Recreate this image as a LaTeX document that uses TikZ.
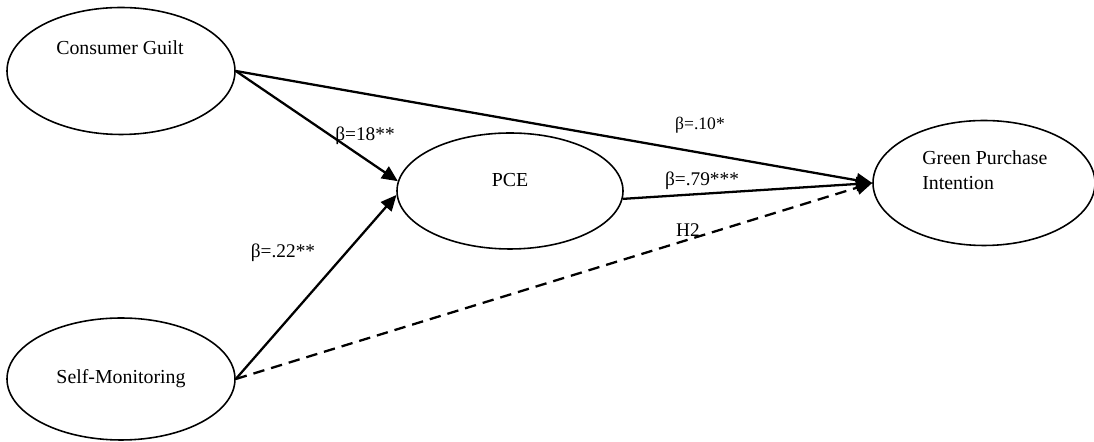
\documentclass[tikz,border=0pt]{standalone}
\usepackage{fontspec}
\setmainfont{Liberation Serif}
\usepackage{tikz}
\usetikzlibrary{shapes.geometric, arrows.meta, positioning}

\begin{document}
\begin{tikzpicture}[
                construct/.style={ellipse, draw=black, line width=0.9pt, inner sep=0pt},
                label/.style={font=\fontsize{11.3}{14}\selectfont, inner sep=0pt},
                coef/.style={font=\fontsize{11}{13}\selectfont, inner sep=0pt},
                arrow/.style={line width=1.3pt, -{Triangle[length=9pt, width=8pt]}},
                dashed_arrow/.style={line width=1.3pt, dash pattern=on 6.5pt off 4pt, -{Triangle[length=9pt, width=8pt]}}
            ]%
            \useasboundingbox (0,0) rectangle (21.88,8.84);
            %
            % Constructos
            \node[construct, minimum width=4.56cm, minimum height=2.54cm] (cg) at (2.42,7.42) {};
            \node[construct, minimum width=4.56cm, minimum height=2.44cm] (sm) at (2.42,1.26) {};
            \node[construct, minimum width=4.52cm, minimum height=2.32cm] (pce) at (10.2,5.02) {};
            \node[construct, minimum width=4.44cm, minimum height=2.5cm] (gpi) at (19.68,5.18) {};
            %
            % Textos
            \node[label] (cg_txt) at (2.4,7.88) {Consumer Guilt};
            \node[label] (sm_txt) at (sm.center) {Self-Monitoring};
            \node[label] (pce_txt) at (10.2,5.24) {PCE};
            \node[label, anchor=west, align=left] (gpi_txt) at (18.44,5.44) {Green Purchase\\Intention};
            %
            % Relaciones
            \draw[arrow] (cg.east) -- (pce.175);
            \draw[arrow] (sm.east) -- (pce.182);
            \draw[arrow] (cg.east) -- (gpi.west);
            \draw[arrow] (pce.-4) -- (gpi.west);
            \draw[dashed_arrow] (sm.east) -- (gpi.west);
            %
            % Coeficientes
            \node[coef] (b_cg_pce) at (7.3,6.12) {β=18**};
            \node[coef] (b_sm_pce) at (5.66,3.78) {β=.22**};
            \node[coef, font=\fontsize{10}{12}\selectfont] (b_cg_gpi) at (14.0,6.34) {β=.10*};
            \node[coef] (b_pce_gpi) at (14.04,5.22) {β=.79***};
            \node[coef] (h2) at (13.76,4.24) {H2};
        \end{tikzpicture}
\end{document}
